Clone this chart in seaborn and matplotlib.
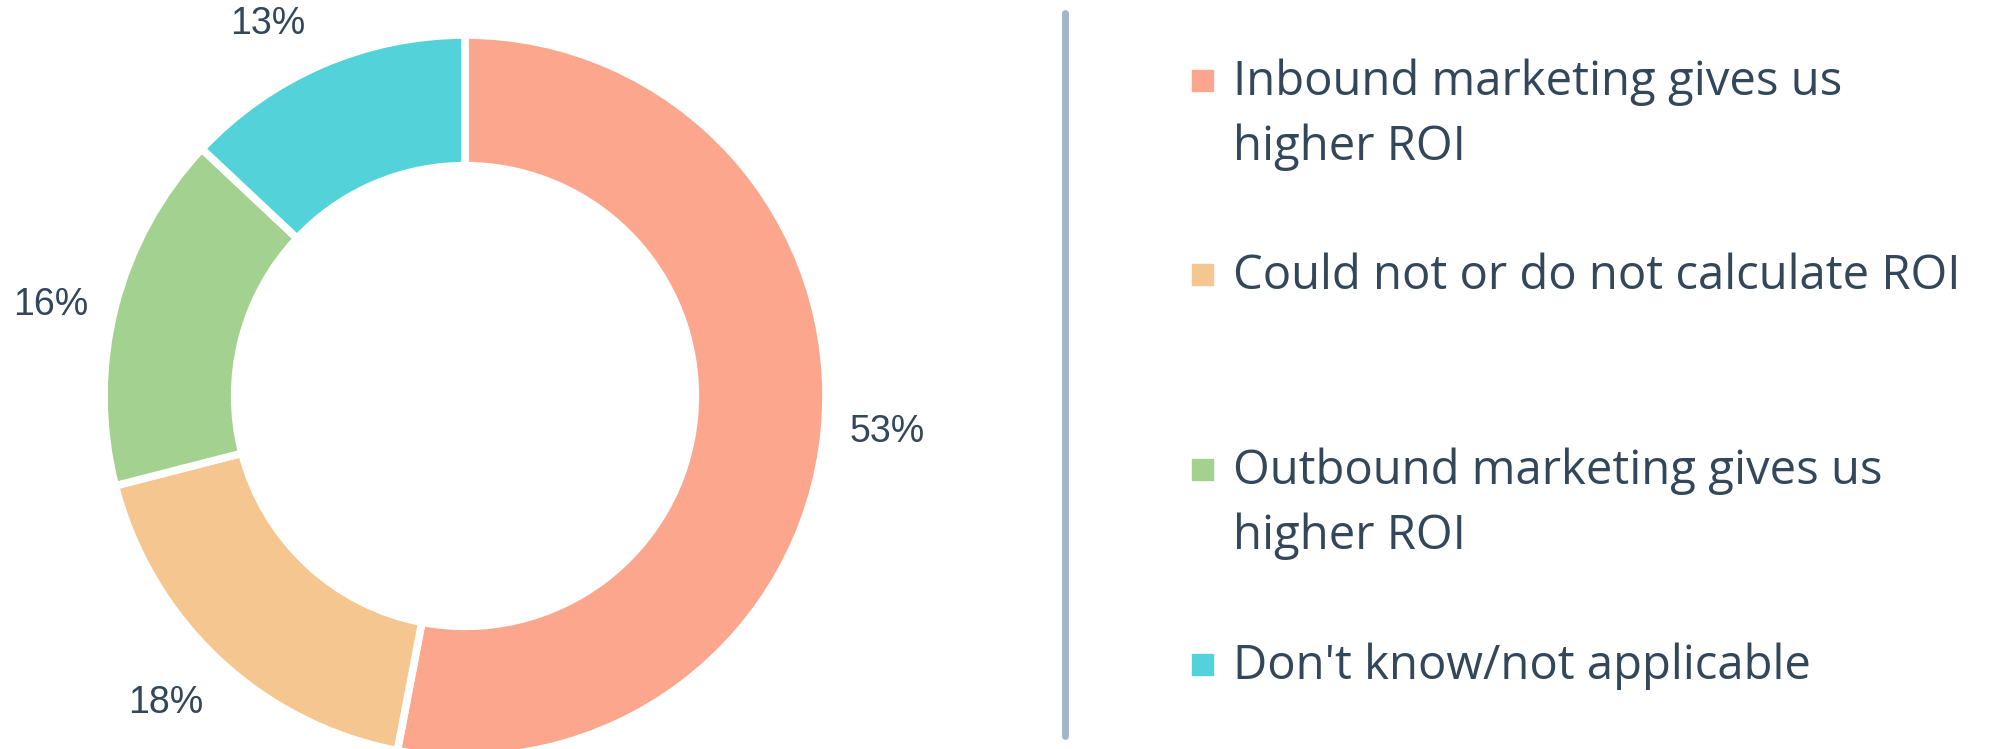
import numpy as np
import seaborn as sns
import matplotlib.pyplot as plt
from matplotlib.patches import Rectangle

# veriler
labels = ['Inbound marketing gives us\nhigher ROI',
          'Could not or do not calculate ROI',
          'Outbound marketing gives us\nhigher ROI',
          "Don't know/not applicable"]
values = [53, 18, 16, 13]
colors = ['#FCA68D', '#F5C68F', '#A3D290', '#53D3D9']

sns.set_theme(style='white')
plt.rcParams['font.family'] = ['Liberation Sans', 'DejaVu Sans']
text_color = '#33475B'

W, H = 1991, 749
fig = plt.figure(figsize=(W / 100, H / 100), dpi=100)

# donut: merkez (465, 396) px, yaricap ~361 px
cx, cy, R = 465, 396, 361
lim = 1.3
size = 2 * R * lim
ax = fig.add_axes([(cx - size / 2) / W, (H - cy - size / 2) / H, size / W, size / H])
wedges, texts, autotexts = ax.pie(
    values, colors=colors, startangle=90, counterclock=False,
    autopct=lambda p: f'{p:.0f}%', pctdistance=1.19,
    wedgeprops=dict(width=0.362, edgecolor='white', linewidth=5.5),
    textprops=dict(color=text_color, fontsize=27))
ax.set_xlim(-lim, lim)
ax.set_ylim(-lim, lim)
ax.set_aspect('equal')
ax.axis('off')

# yuzde etiketlerini biraz kaydir (piksel)
nudge = [(-6, 4), (-5, 6), (2, -16), (-27, -22)]
for t, (dx, dy) in zip(autotexts, nudge):
    x, y = t.get_position()
    t.set_position((x + dx / R, y + dy / R))

# dikey ayirici cizgi
fig.add_artist(plt.Line2D([1064.5 / W, 1064.5 / W], [1 - 13 / H, 1 - 736 / H],
                          color='#A3B5CA', linewidth=5))

# el ile legend
baselines = [95, 289, 484, 679]
for lab, col, yb in zip(labels, colors, baselines):
    fig.add_artist(Rectangle((1192 / W, 1 - (yb - 4) / H), 21 / W, 21 / H,
                             transform=fig.transFigure, color=col))
    for k, line in enumerate(lab.split('\n')):
        fig.text(1233 / W, 1 - (yb + 65 * k) / H, line, ha='left', va='baseline',
                 fontsize=34, color=text_color, family=['Open Sans', 'DejaVu Sans'])

fig.savefig('out.png', dpi=100)
